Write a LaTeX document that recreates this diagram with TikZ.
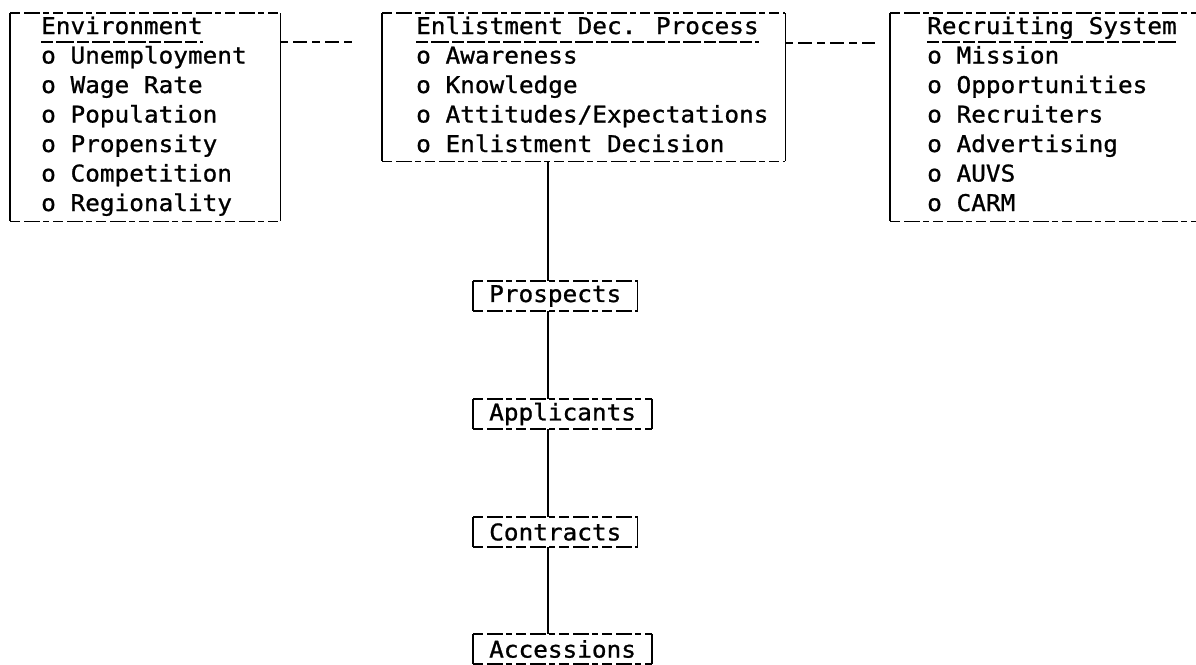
\documentclass[tikz,border=0pt]{standalone}
\usepackage{fontspec}
\newfontfamily\twfont[FakeStretch=1.06,FakeBold=1]{DejaVu Sans Mono}
\tikzset{
  txt/.style={anchor=base west, inner sep=0pt, font=\twfont\fontsize{23}{27}\selectfont},
  frame/.style={draw=none, inner sep=0pt, anchor=north west},
  chainbox/.style={draw=none, anchor=west, inner xsep=16pt, inner ysep=0pt, minimum height=30pt, font=\twfont\fontsize{23}{27}\selectfont},
  hside/.style={line width=1.6pt, dash pattern=on 10pt off 4pt on 16pt off 3pt on 6pt off 4pt},
  vside/.style={line width=1.7pt},
  uline/.style={line width=1.5pt, dash pattern=on 12pt off 3pt on 18pt off 3pt},
  conn/.style={line width=1.6pt, dash pattern=on 8pt off 5pt on 14pt off 5pt},
  spineline/.style={line width=1.7pt}
}
\newcommand\tframe[1]{%
  \draw[hside] (#1.north west) -- (#1.north east);
  \draw[hside] (#1.south west) -- (#1.south east);
  \draw[vside] (#1.north west) -- (#1.south west);
  \draw[vside] (#1.north east) -- (#1.south east);}
\begin{document}
\begin{tikzpicture}[x=1pt,y=1pt]
\useasboundingbox (0,0) rectangle (1196,-664);
\clip (0,0) rectangle (1196,-664);
% frames
\node[frame, minimum width=270pt, minimum height=208pt] (env) at (10,-13) {};
\node[frame, minimum width=403pt, minimum height=148pt] (enl) at (382,-13) {};
\node[frame, minimum width=330pt, minimum height=208pt] (rec) at (890,-13) {};
\tframe{env}\tframe{enl}\tframe{rec}
% Environment
\node[txt] (env-t) at (41,-34) {Environment};
\node[txt] (env-1) at (41,-63.5) {o Unemployment};
\node[txt] (env-2) at (41,-93) {o Wage Rate};
\node[txt] (env-3) at (41,-122.5) {o Population};
\node[txt] (env-4) at (41,-152) {o Propensity};
\node[txt] (env-5) at (41,-181.5) {o Competition};
\node[txt] (env-6) at (41,-211) {o Regionality};
\draw[uline] ([yshift=-8pt]env-t.base west) -- ([yshift=-8pt]env-t.base east);
% Enlistment
\node[txt] (enl-t) at (416,-34) {Enlistment Dec. Process};
\node[txt] (enl-1) at (416,-63.5) {o Awareness};
\node[txt] (enl-2) at (416,-93) {o Knowledge};
\node[txt] (enl-3) at (416,-122.5) {o Attitudes/Expectations};
\node[txt] (enl-4) at (416,-152) {o Enlistment Decision};
\draw[uline] ([yshift=-8pt]enl-t.base west) -- ([yshift=-8pt]enl-t.base east);
% Recruiting
\node[txt] (rec-t) at (927,-34) {Recruiting System};
\node[txt] (rec-1) at (927,-63.5) {o Mission};
\node[txt] (rec-2) at (927,-93) {o Opportunities};
\node[txt] (rec-3) at (927,-122.5) {o Recruiters};
\node[txt] (rec-4) at (927,-152) {o Advertising};
\node[txt] (rec-5) at (927,-181.5) {o AUVS};
\node[txt] (rec-6) at (927,-211) {o CARM};
\draw[uline] ([yshift=-8pt]rec-t.base west) -- ([yshift=-8pt]rec-t.base east);
% connectors between top boxes
\coordinate (c1) at (355,-42);
\coordinate (c2) at (875,-43);
\draw[conn] (env.east |- c1) -- (c1);
\draw[conn] (enl.east |- c2) -- (c2);
% chain
\node[chainbox] (pros) at (473,-296) {Prospects};
\node[chainbox] (appl) at (473,-414) {Applicants};
\node[chainbox] (cont) at (473,-532) {Contracts};
\node[chainbox] (acc) at (473,-649) {Accessions};
\tframe{pros}\tframe{appl}\tframe{cont}\tframe{acc}
\coordinate (spine) at (548,0);
\draw[spineline] (enl.south -| spine) -- (pros.north -| spine);
\draw[spineline] (pros.south -| spine) -- (appl.north -| spine);
\draw[spineline] (appl.south -| spine) -- (cont.north -| spine);
\draw[spineline] (cont.south -| spine) -- (acc.north -| spine);
\end{tikzpicture}
\end{document}
